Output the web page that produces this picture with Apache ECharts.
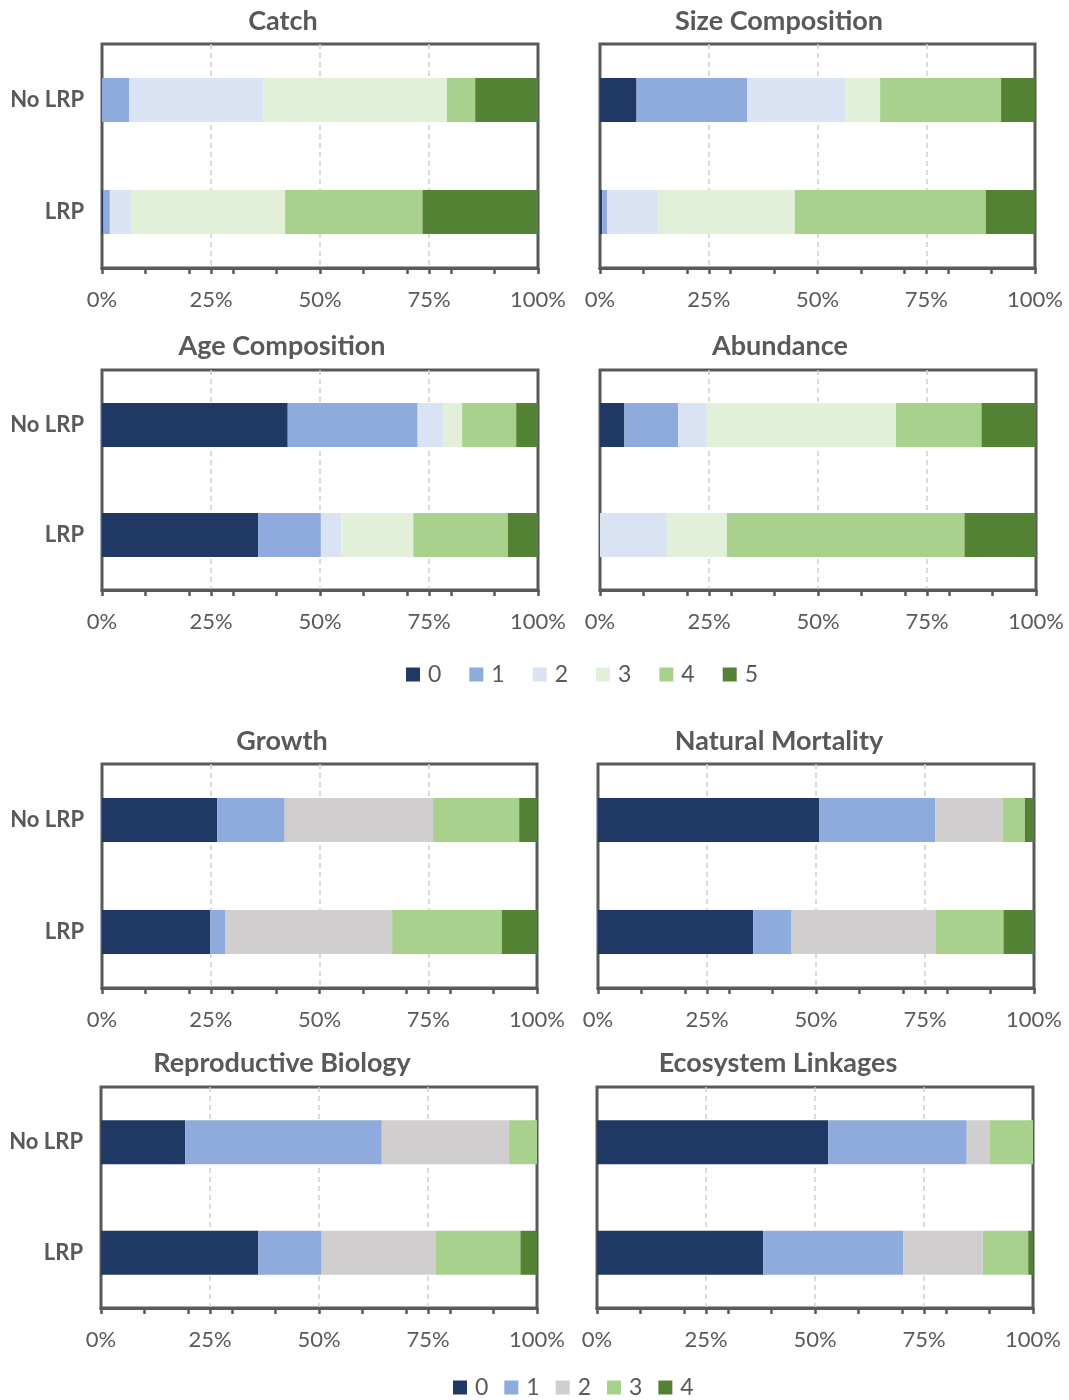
<!DOCTYPE html>
<html>
<head>
<meta charset="utf-8">
<script src="https://cdn.jsdelivr.net/npm/echarts@6/dist/echarts.min.js"></script>
<style>
html,body{margin:0;padding:0;background:#fff;}
#chart{width:1069px;height:1400px;}
</style>
</head>
<body>
<div id="chart"></div>
<script>
// ---- Data ----
const categories = ['No LRP', 'LRP'];
const topLevels = ['0', '1', '2', '3', '4', '5'];
const bottomLevels = ['0', '1', '2', '3', '4'];
const tickLabels = ['0%', '25%', '50%', '75%', '100%'];

const panelTitles = ['Catch', 'Size Composition', 'Age Composition', 'Abundance',
  'Growth', 'Natural Mortality', 'Reproductive Biology', 'Ecosystem Linkages'];

// percentages per score level (No LRP / LRP)
const catchNoLRP = [0, 6.2, 30.7, 42.2, 6.5, 14.4];
const catchLRP = [0.3, 1.5, 4.8, 35.4, 31.5, 26.5];
const sizeNoLRP = [8.4, 25.4, 22.7, 7.9, 27.8, 7.8];
const sizeLRP = [0.5, 1.1, 11.7, 31.5, 43.9, 11.3];
const ageNoLRP = [42.6, 29.8, 5.8, 4.4, 12.4, 5.0];
const ageLRP = [35.8, 14.4, 4.7, 16.5, 21.7, 6.9];
const abundanceNoLRP = [5.6, 12.3, 6.6, 43.4, 19.6, 12.5];
const abundanceLRP = [0, 0, 15.4, 13.7, 54.5, 16.4];
const growthNoLRP = [26.5, 15.5, 34.1, 19.8, 4.1];
const growthLRP = [24.9, 3.5, 38.3, 25.2, 8.1];
const mortalityNoLRP = [50.7, 26.7, 15.4, 5.1, 2.1];
const mortalityLRP = [35.6, 8.8, 33.0, 15.6, 7.0];
const reproNoLRP = [19.3, 45.1, 29.2, 6.4, 0];
const reproLRP = [36.1, 14.5, 26.1, 19.5, 3.8];
const ecoNoLRP = [53.0, 31.8, 5.2, 10.0, 0];
const ecoLRP = [38.1, 32.1, 18.3, 10.4, 1.1];

// ---- Styles ----
const topColors = ['#203864', '#8FAADC', '#DAE3F3', '#E2F0D9', '#A9D18E', '#548235'];
const bottomColors = ['#203864', '#8FAADC', '#D0CECE', '#A9D18E', '#548235'];
const FONT = 'Lato, "Open Sans", sans-serif';
const TXT = '#595959';

const panels = [
  {no: catchNoLRP, lrp: catchLRP, top: true, ylab: true, grid: {left: 102, top: 44, width: 436, height: 224}, title: [283, 21]},
  {no: sizeNoLRP, lrp: sizeLRP, top: true, ylab: false, grid: {left: 600, top: 44, width: 435, height: 224}, title: [779, 21]},
  {no: ageNoLRP, lrp: ageLRP, top: true, ylab: true, grid: {left: 102, top: 370, width: 436, height: 220}, title: [282, 346]},
  {no: abundanceNoLRP, lrp: abundanceLRP, top: true, ylab: false, grid: {left: 600, top: 370, width: 436, height: 220}, title: [780, 346]},
  {no: growthNoLRP, lrp: growthLRP, top: false, ylab: true, grid: {left: 102, top: 764, width: 435, height: 224}, title: [282, 741]},
  {no: mortalityNoLRP, lrp: mortalityLRP, top: false, ylab: false, grid: {left: 598, top: 764, width: 436, height: 224}, title: [779, 741]},
  {no: reproNoLRP, lrp: reproLRP, top: false, ylab: true, grid: {left: 101, top: 1087, width: 436, height: 221}, title: [282, 1063]},
  {no: ecoNoLRP, lrp: ecoLRP, top: false, ylab: false, grid: {left: 597, top: 1087, width: 436, height: 221}, title: [778, 1063]}
];

const grids = [], xAxes = [], yAxes = [], series = [], titles = [];

panels.forEach((p, gi) => {
  grids.push(Object.assign({show: true, borderColor: '#595959', borderWidth: 3, backgroundColor: 'transparent'}, p.grid));
  // minor 10% ticks axis
  xAxes.push({
    gridIndex: gi, type: 'value', min: 0, max: 100, interval: 10, position: 'bottom',
    axisLine: {show: true, lineStyle: {color: '#595959', width: 3}},
    axisTick: {show: true, length: 6, lineStyle: {color: '#595959', width: 2.5}},
    axisLabel: {show: false}, splitLine: {show: false}
  });
  // labelled 25% axis
  xAxes.push({
    gridIndex: gi, type: 'value', min: 0, max: 100, interval: 25, position: 'bottom',
    axisLine: {show: true, lineStyle: {color: '#595959', width: 3}},
    axisTick: {show: true, length: 6, lineStyle: {color: '#595959', width: 2.5}},
    axisLabel: {show: true, margin: 21, fontSize: 22, color: TXT, fontFamily: FONT,
      formatter: v => tickLabels[Math.round(v / 25)]},
    splitLine: {show: true, showMinLine: false, showMaxLine: false,
      lineStyle: {color: '#D0D0D0', type: [5, 4], width: 1.5}}
  });
  yAxes.push({
    gridIndex: gi, type: 'category', data: categories, inverse: true,
    axisLine: {show: false}, axisTick: {show: false},
    axisLabel: {show: p.ylab, fontSize: 22, fontWeight: 'bold', color: TXT, fontFamily: FONT, margin: 18}
  });
  const levels = p.top ? topLevels : bottomLevels;
  const colors = p.top ? topColors : bottomColors;
  levels.forEach((lv, i) => {
    series.push({
      name: (p.top ? 'a' : 'b') + lv,
      type: 'bar', stack: 's' + gi, xAxisIndex: gi * 2 + 1, yAxisIndex: gi,
      barWidth: 44, itemStyle: {color: colors[i]},
      data: [p.no[i], p.lrp[i]], silent: true
    });
  });
  titles.push({
    text: panelTitles[gi], left: p.title[0] - 5, top: p.title[1] - 18, textAlign: 'center',
    textStyle: {fontSize: 27, fontWeight: 'bold', color: TXT, fontFamily: FONT}
  });
});

const legendBase = {
  icon: 'rect', itemWidth: 14, itemHeight: 14, itemGap: 28,
  textStyle: {fontSize: 23, color: TXT, fontFamily: FONT, padding: [0, 0, 0, 3]},
  formatter: name => name.slice(1), selectedMode: false
};

const option = {
  animation: false,
  backgroundColor: '#fff',
  title: titles,
  grid: grids,
  xAxis: xAxes,
  yAxis: yAxes,
  legend: [
    Object.assign({}, legendBase, {data: topLevels.map(l => 'a' + l), left: 401, top: 658}),
    Object.assign({}, legendBase, {data: bottomLevels.map(l => 'b' + l), left: 448, top: 1371, itemGap: 16})
  ],
  series: series
};

const chart = echarts.init(document.getElementById('chart'), null, {renderer: 'canvas'});
chart.setOption(option);
</script>
</body>
</html>
